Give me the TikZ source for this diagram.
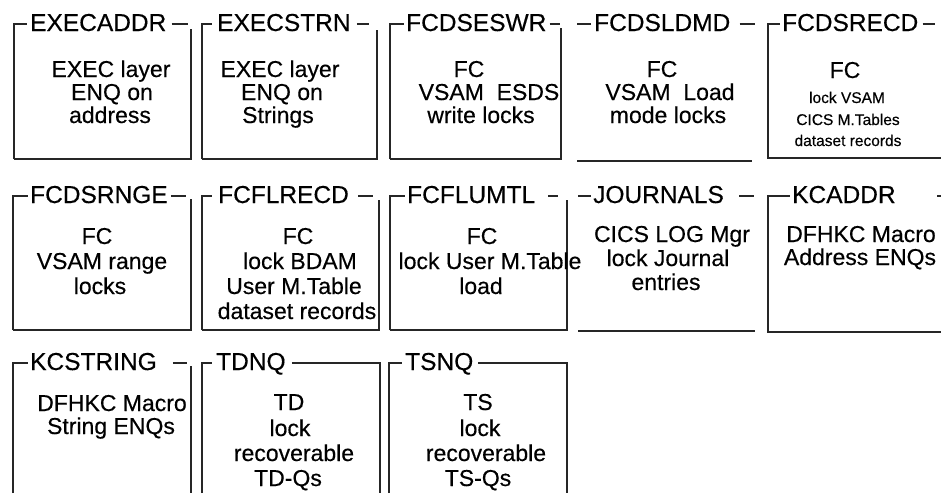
\documentclass[tikz,border=0pt]{standalone}
\usepackage{fontspec}
\setmainfont{Liberation Sans}[FakeBold=0.35]
\begin{document}
\begin{tikzpicture}[x=1pt,y=-1pt,
  frame/.style={draw=black!85,line width=1.1pt},
  ttl/.style={anchor=base west,inner sep=0pt,font=\fontsize{24.5}{28}\selectfont},
  body/.style={anchor=base,inner sep=0pt,font=\fontsize{23}{26}\selectfont},
  small/.style={anchor=base,inner sep=0pt,font=\fontsize{15.5}{18}\selectfont}]
\useasboundingbox[fill=white] (0,0) rectangle (941,493);
% ---------------- Row 1 ----------------
% EXECADDR
\node[ttl] (t1) at (30,31) {EXECADDR};
\draw[frame] (14,159) -- (14,24) -- (27,24);
\draw[frame] (t1.base east) ++(5,-7) -- ++(16,0);
\draw[frame] (191,29) -- (191,159) -- (14,159);
\node[body] (b1a) at (111,77) {EXEC layer};
\node[body] (b1b) at (112,100) {ENQ on};
\node[body] (b1c) at (110,123) {address};
% EXECSTRN
\node[ttl] (t2) at (217,31) {EXECSTRN};
\draw[frame] (202,159) -- (202,24) -- (212,24);
\draw[frame] (t2.base east) ++(6,-7) -- ++(12,0);
\draw[frame] (377,30) -- (377,159) -- (202,159);
\node[body] (b2a) at (280,77) {EXEC layer};
\node[body] (b2b) at (282,100) {ENQ on};
\node[body] (b2c) at (278,123) {Strings};
% FCDSESWR
\node[ttl] (t3) at (406,31) {FCDSESWR};
\draw[frame] (390,159) -- (390,24) -- (404,24);
\draw[frame] (t3.base east) ++(3,-7) -- ++(10,0);
\draw[frame] (561,28) -- (561,159) -- (390,159);
\node[body] (b3a) at (469,77) {FC};
\node[body] (b3b) at (489,100) {VSAM\ \ ESDS};
\node[body] (b3c) at (481,123) {write locks};
% FCDSLDMD
\node[ttl] (t4) at (594,31) {FCDSLDMD};
\draw[frame] (577,24) -- (591,24);
\draw[frame] (t4.base east) ++(9,-7) -- ++(15,0);
\draw[frame] (577,161) -- (752,161);
\node[body] (b4a) at (662,77) {FC};
\node[body] (b4b) at (670,100) {VSAM\ \ Load};
\node[body] (b4c) at (668,123) {mode locks};
% FCDSRECD
\node[ttl] (t5) at (782,31) {FCDSRECD};
\draw[frame] (941,158) -- (768,158) -- (768,24) -- (780,24);
\draw[frame] (t5.base east) ++(4,-7) -- ++(12,0);
\node[body] (b5a) at (845,78) {FC};
\node[small] (b5b) at (847,103) {lock VSAM};
\node[small] (b5c) at (848,125) {CICS M.Tables};
\node[small] (b5d) at (848,146) {dataset records};
% ---------------- Row 2 ----------------
% FCDSRNGE
\node[ttl] (t6) at (30,203) {FCDSRNGE};
\draw[frame] (13,330) -- (13,196) -- (28,196);
\draw[frame] (t6.base east) ++(3,-7) -- ++(15,0);
\draw[frame] (191,199) -- (191,330) -- (13,330);
\node[body] (b6a) at (97,244) {FC};
\node[body] (b6b) at (102,269) {VSAM range};
\node[body] (b6c) at (100,294) {locks};
% FCFLRECD
\node[ttl] (t7) at (218,203) {FCFLRECD};
\draw[frame] (202,330) -- (202,196) -- (212,196);
\draw[frame] (t7.base east) ++(9,-7) -- ++(15,0);
\draw[frame] (379,200) -- (379,330) -- (202,330);
\node[body] (b7a) at (298,244) {FC};
\node[body] (b7b) at (300,269) {lock BDAM};
\node[body] (b7c) at (294,294) {User M.Table};
\node[body] (b7d) at (297,319) {dataset records};
% FCFLUMTL
\node[ttl] (t8) at (407,203) {FCFLUMTL};
\draw[frame] (390,330) -- (390,196) -- (405,196);
\draw[frame] (t8.base east) ++(13,-7) -- ++(10,0);
\draw[frame] (567,200) -- (567,330) -- (390,330);
\node[body] (b8a) at (482,244) {FC};
\node[body] (b8b) at (490,269) {lock User M.Table};
\node[body] (b8c) at (481,294) {load};
% JOURNALS
\node[ttl] (t9) at (593,203) {JOURNALS};
\draw[frame] (578,196) -- (591,196);
\draw[frame] (t9.base east) ++(15,-7) -- ++(15,0);
\draw[frame] (578,331) -- (755,331);
\node[body] (b9a) at (672,242) {CICS LOG Mgr};
\node[body] (b9b) at (668,266) {lock Journal};
\node[body] (b9c) at (666,290) {entries};
% KCADDR
\node[ttl] (t10) at (792,203) {KCADDR};
\draw[frame] (941,332) -- (768,332) -- (768,196) -- (790,196);
\draw[frame] (937,196) -- (941,196);
\node[body] (b10a) at (861,242) {DFHKC Macro};
\node[body] (b10b) at (860,265) {Address ENQs};
% ---------------- Row 3 ----------------
% KCSTRING
\node[ttl] (t11) at (30,370) {KCSTRING};
\draw[frame] (13,493) -- (13,363) -- (28,363);
\draw[frame] (t11.base east) ++(16,-7) -- ++(14,0);
\draw[frame] (191,366) -- (191,493);
\node[body] (b11a) at (112,411) {DFHKC Macro};
\node[body] (b11b) at (111,434) {String ENQs};
% TDNQ
\node[ttl] (t12) at (216,370) {TDNQ};
\draw[frame] (202,493) -- (202,363) -- (212,363);
\draw[frame] (t12.base east) ++(6,-7) -- (380,363) -- (380,493);
\node[body] (b12a) at (289,410) {TD};
\node[body] (b12b) at (290,436) {lock};
\node[body] (b12c) at (294,461) {recoverable};
\node[body] (b12d) at (288,486) {TD-Qs};
% TSNQ
\node[ttl] (t13) at (405,370) {TSNQ};
\draw[frame] (389,493) -- (389,363) -- (402,363);
\draw[frame] (t13.base east) ++(5,-7) -- (567,363) -- (567,493);
\node[body] (b13a) at (478,410) {TS};
\node[body] (b13b) at (480,436) {lock};
\node[body] (b13c) at (486,461) {recoverable};
\node[body] (b13d) at (478,486) {TS-Qs};
\end{tikzpicture}
\end{document}
